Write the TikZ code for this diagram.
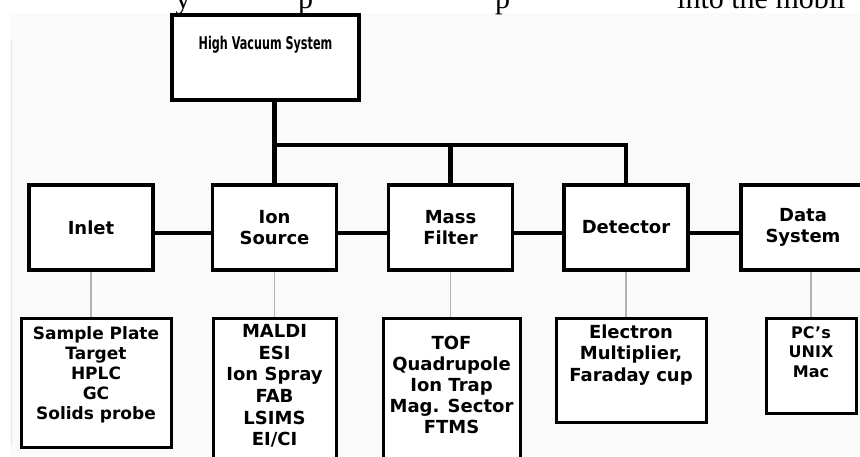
\documentclass[tikz,border=0pt]{standalone}
\usepackage{graphicx}
\usepackage{fontspec}
\setmainfont{DejaVu Sans}
\newfontfamily\pagefont{Liberation Serif}
\begin{document}
\begin{tikzpicture}[x=1pt,y=-1pt,
  box/.style={draw, line width=3.8pt, minimum width=124pt, minimum height=85pt, inner sep=0pt,
    font=\fontsize{18}{21}\selectfont\bfseries, align=center},
  lbox/.style={draw, line width=3pt, inner sep=0pt},
  lst/.style={font=\fontsize{18}{21}\selectfont\bfseries, align=center, inner sep=0pt},
  bus/.style={line width=4.5pt},
  thinline/.style={line width=1.5pt, draw=gray!60},
  frag/.style={font=\pagefont\fontsize{30}{30}\selectfont, anchor=base west, inner sep=0pt}]
\useasboundingbox (0,0) rectangle (860,456);
\clip (0,0) rectangle (860,456);
\fill[white] (0,0) rectangle (860,456);
\fill[gray!4] (10,13) rectangle (860,456);
\draw[gray!18, line width=1pt] (11,40) -- (11,445);
% page text fragments (cut off at the top edge, as in the reference)
\node[frag] (f1) at (175.5,8) {y};
\node[frag] (f2) at (298,8) {p};
\node[frag] (f3) at (495,8) {p};
\node[frag] (f4) at (677,8) {into the mobil};
% top box
\node[box, fill=white, minimum width=187pt] (hv) at (265.5,57.5) {};
\node[font=\fontsize{17.5}{20}\selectfont\bfseries, inner sep=0pt] (hvt) at (265.5,45) {\scalebox{0.64}[1]{High Vacuum System}};
% main row
\node[box, fill=white] (inlet) at (91,227.5) {Inlet};
\node[box, fill=white] (ion) at (274.5,227.5) {Ion\\Source};
\node[box, fill=white] (mass) at (450.5,227.5) {Mass\\Filter};
\node[box, fill=white] (det) at (626,227.5) {Detector};
\node[box, fill=white] (data) at (803,227.5) {Data\\System};
% bus
\coordinate (busy) at (0,145);
\draw[bus] (hv.south -| ion.north) -- (ion.north);
\draw[bus, line cap=rect] (ion.north |- busy) -- (det.north |- busy);
\draw[bus] (mass.north |- busy) -- (mass.north);
\draw[bus] (det.north |- busy) -- (det.north);
% chain
\draw[bus] ([yshift=-5.5pt]inlet.east) -- ([yshift=-5.5pt]ion.west);
\draw[bus] ([yshift=-5.5pt]ion.east) -- ([yshift=-5.5pt]mass.west);
\draw[bus] ([yshift=-5.5pt]mass.east) -- ([yshift=-5.5pt]det.west);
\draw[bus] ([yshift=-5.5pt]det.east) -- ([yshift=-5.5pt]data.west);
% lower boxes
\node[lbox, fill=white, minimum width=150pt, minimum height=129pt] (l1) at (96,382.5) {};
\node[lbox, fill=white, minimum width=123pt, minimum height=152pt] (l2) at (274.5,394) {};
\node[lbox, fill=white, minimum width=137pt, minimum height=152pt] (l3) at (451.5,394) {};
\node[lbox, fill=white, minimum width=150pt, minimum height=104pt] (l4) at (631,370) {};
\node[lbox, fill=white, minimum width=90pt, minimum height=95pt] (l5) at (811,365.5) {};
\node[lst, font=\fontsize{17}{20}\selectfont\bfseries] (t1) at (96,375) {Sample Plate\\Target\\HPLC\\GC\\Solids probe};
\node[lst, font=\fontsize{18}{21.6}\selectfont\bfseries] (t2) at (274.5,386) {MALDI\\ESI\\Ion Spray\\FAB\\LSIMS\\EI/CI};
\node[lst] (t3) at (451.5,385) {TOF\\Quadrupole\\Ion Trap\\Mag. Sector\\FTMS};
\node[lst, font=\fontsize{18}{21.5}\selectfont\bfseries] (t4) at (631,355) {Electron\\Multiplier,\\Faraday cup};
\node[lst, font=\fontsize{16}{19.5}\selectfont\bfseries] (t5) at (811,352) {PC’s\\UNIX\\Mac};
% thin connectors
\draw[thinline] (inlet.south) -- (inlet.south |- l1.north);
\draw[thinline] (ion.south) -- (ion.south |- l2.north);
\draw[thinline] (mass.south) -- (mass.south |- l3.north);
\draw[thinline] (det.south) -- (det.south |- l4.north);
\draw[thinline] (l5.north |- data.south) -- (l5.north);
\end{tikzpicture}
\end{document}
